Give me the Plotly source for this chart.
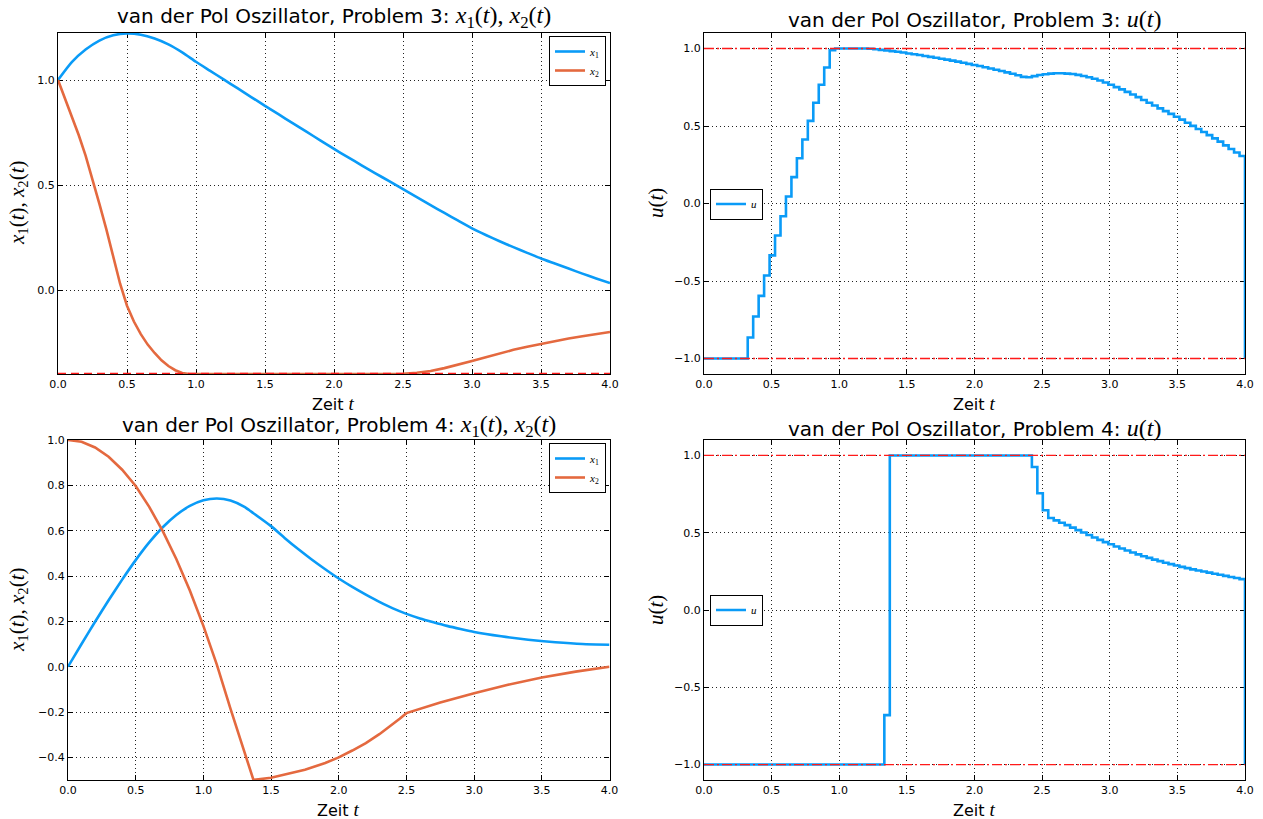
import numpy as np
import plotly.graph_objects as go

# ---------------- data ----------------
# Problem 3 states
t_p3_x1 = [0.0, 0.1, 0.2, 0.3, 0.4, 0.5, 0.6, 0.7, 0.8, 0.9, 1.0, 1.1, 1.2, 1.3, 1.4, 1.5,
           1.6, 1.7, 1.8, 1.9, 2.0, 2.1, 2.2, 2.3, 2.4, 2.5, 2.6, 2.7, 2.8, 2.9, 3.0, 3.1,
           3.2, 3.3, 3.4, 3.5, 3.6, 3.7, 3.8, 3.9, 4.0]
p3_x1 = [1.000, 1.085, 1.145, 1.188, 1.213, 1.222, 1.216, 1.198, 1.170, 1.132, 1.087, 1.045,
         1.003, 0.961, 0.919, 0.877, 0.836, 0.795, 0.754, 0.713, 0.672, 0.633, 0.594, 0.556,
         0.518, 0.480, 0.442, 0.404, 0.367, 0.330, 0.294, 0.262, 0.232, 0.204, 0.177, 0.150,
         0.126, 0.102, 0.078, 0.055, 0.033]
t_p3_x2 = [0.0, 0.05, 0.1, 0.15, 0.2, 0.25, 0.3, 0.35, 0.4, 0.45, 0.5, 0.55, 0.6, 0.65, 0.7,
           0.75, 0.8, 0.85, 0.9, 0.95, 1.5, 2.0, 2.45, 2.5, 2.6, 2.7, 2.8, 2.9, 3.0, 3.1, 3.2,
           3.3, 3.4, 3.5, 3.6, 3.7, 3.8, 3.9, 4.0]
p3_x2 = [1.0, 0.915, 0.828, 0.738, 0.64, 0.53, 0.41, 0.29, 0.16, 0.03, -0.075, -0.15, -0.21,
         -0.26, -0.30, -0.335, -0.362, -0.382, -0.395, -0.4, -0.4, -0.4, -0.4, -0.399, -0.394,
         -0.386, -0.372, -0.356, -0.338, -0.32, -0.302, -0.285, -0.27, -0.256, -0.243, -0.231,
         -0.22, -0.21, -0.2]
p3_x2_bound = -0.4

# Problem 3 control (piecewise constant on a 100-point time grid)
t_grid = np.linspace(0.0, 4.0, 100)
p3_u = [-1.0, -1.0, -1.0, -1.0, -1.0, -1.0, -1.0, -1.0,
        -0.865, -0.729, -0.596, -0.465, -0.335, -0.206, -0.082, 0.045, 0.17, 0.292,
        0.413, 0.533, 0.65, 0.766, 0.877, 0.989,
        1.0, 1.0, 1.0, 1.0, 1.0, 1.0,
        0.998, 0.995, 0.991, 0.987, 0.983, 0.979, 0.974, 0.968, 0.963, 0.958,
        0.952, 0.946, 0.940, 0.934, 0.928, 0.922, 0.915, 0.908, 0.901, 0.894,
        0.887, 0.879, 0.871, 0.863, 0.855, 0.846, 0.837, 0.827, 0.817, 0.815,
        0.822, 0.829, 0.834, 0.838, 0.840, 0.840, 0.838, 0.835, 0.830, 0.823,
        0.815, 0.805, 0.794, 0.781, 0.766, 0.751, 0.736, 0.720, 0.703, 0.686,
        0.668, 0.650, 0.632, 0.614, 0.596, 0.578, 0.560, 0.541, 0.521, 0.501,
        0.481, 0.461, 0.441, 0.420, 0.399, 0.375, 0.352, 0.329, 0.306,
        -1.0]

# Problem 4 states
t_p4_x1 = [0.0, 0.1, 0.2, 0.3, 0.4, 0.5, 0.6, 0.7, 0.8, 0.9, 1.0, 1.1, 1.2, 1.3, 1.37, 1.5,
           1.6, 1.7, 1.8, 1.9, 2.0, 2.1, 2.2, 2.3, 2.4, 2.5, 2.6, 2.7, 2.8, 2.9, 3.0, 3.2,
           3.4, 3.6, 3.8, 4.0]
p4_x1 = [0.0, 0.1, 0.198, 0.293, 0.384, 0.47, 0.548, 0.615, 0.669, 0.709, 0.734, 0.742,
         0.733, 0.706, 0.677, 0.62, 0.568, 0.519, 0.473, 0.43, 0.389, 0.352, 0.318, 0.286,
         0.257, 0.233, 0.213, 0.196, 0.18, 0.166, 0.153, 0.134, 0.119, 0.108, 0.1, 0.097]
t_p4_x2 = [0.0, 0.1, 0.2, 0.3, 0.4, 0.5, 0.6, 0.7, 0.8, 0.9, 1.0, 1.1, 1.2, 1.3, 1.37, 1.5,
           1.6, 1.75, 1.9, 2.0, 2.1, 2.2, 2.3, 2.4, 2.45, 2.5, 2.75, 3.0, 3.25, 3.5, 3.75, 4.0]
p4_x2 = [1.0, 0.992, 0.967, 0.926, 0.869, 0.797, 0.705, 0.598, 0.475, 0.336, 0.18, 0.008,
         -0.185, -0.37, -0.5, -0.49, -0.476, -0.455, -0.425, -0.40, -0.37, -0.337, -0.298,
         -0.255, -0.23, -0.205, -0.158, -0.117, -0.08, -0.048, -0.022, 0.0]

# Problem 4 control
p4_u = [-1.0] * 33 + [-0.68] + [1.0] * 26 + [
        0.925, 0.755, 0.645, 0.595,
        0.580, 0.565, 0.549, 0.533, 0.517, 0.501, 0.485, 0.469, 0.454, 0.439,
        0.425, 0.411, 0.398, 0.385, 0.372, 0.360, 0.348, 0.337, 0.326, 0.316,
        0.306, 0.297, 0.288, 0.279, 0.271, 0.263, 0.256, 0.249, 0.242, 0.235,
        0.228, 0.221, 0.214, 0.207, 0.200,
        -1.0]

u_bounds = [-1.0, 1.0]
t_span = [0.0, 4.0]

# ---------------- style ----------------
BLUE = "#0A9BF7"
ORANGE = "#E4693F"
RED = "#FF1A1A"
SANS = "DejaVu Sans"
SERIF = "Liberation Serif"
W, H = 1263, 819


def math(s, size=None):
    st = "font-family:%s" % SERIF
    if size:
        st += ";font-size:%dpx" % size
    return '<span style="%s">%s</span>' % (st, s)


def x12(size=None):
    return math("<i>x</i><sub>1</sub>(<i>t</i>), <i>x</i><sub>2</sub>(<i>t</i>)", size)


def ut(size=None):
    return math("<i>u</i>(<i>t</i>)", size)


fig = go.Figure()

# Problem 3 states
fig.add_trace(go.Scatter(x=t_p3_x1, y=p3_x1, mode="lines", name=math("<i>x</i><sub>1</sub>"),
                         line=dict(color=BLUE, width=2.6, shape="spline", smoothing=0.6),
                         xaxis="x", yaxis="y", legend="legend"))
fig.add_trace(go.Scatter(x=t_p3_x2, y=p3_x2, mode="lines", name=math("<i>x</i><sub>2</sub>"),
                         line=dict(color=ORANGE, width=2.6), xaxis="x", yaxis="y", legend="legend"))
fig.add_trace(go.Scatter(x=t_span, y=[p3_x2_bound, p3_x2_bound], mode="lines", showlegend=False,
                         line=dict(color=RED, width=2.6, dash="8px,5px"), xaxis="x", yaxis="y"))

# Problem 3 control
fig.add_trace(go.Scatter(x=t_grid, y=p3_u, mode="lines", name=math("<i>u</i>"), line_shape="hv",
                         line=dict(color=BLUE, width=2.6), xaxis="x2", yaxis="y2", legend="legend2"))
for b in u_bounds:
    fig.add_trace(go.Scatter(x=t_span, y=[b, b], mode="lines", showlegend=False,
                             line=dict(color=RED, width=1.3, dash="10px,3px,2px,3px"),
                             xaxis="x2", yaxis="y2"))

# Problem 4 states
fig.add_trace(go.Scatter(x=t_p4_x1, y=p4_x1, mode="lines", name=math("<i>x</i><sub>1</sub>"),
                         line=dict(color=BLUE, width=2.6, shape="spline", smoothing=0.6),
                         xaxis="x3", yaxis="y3", legend="legend3"))
fig.add_trace(go.Scatter(x=t_p4_x2, y=p4_x2, mode="lines", name=math("<i>x</i><sub>2</sub>"),
                         line=dict(color=ORANGE, width=2.6), xaxis="x3", yaxis="y3", legend="legend3"))

# Problem 4 control
fig.add_trace(go.Scatter(x=t_grid, y=p4_u, mode="lines", name=math("<i>u</i>"), line_shape="hv",
                         line=dict(color=BLUE, width=2.6), xaxis="x4", yaxis="y4", legend="legend4"))
for b in u_bounds:
    fig.add_trace(go.Scatter(x=t_span, y=[b, b], mode="lines", showlegend=False,
                             line=dict(color=RED, width=1.3, dash="10px,3px,2px,3px"),
                             xaxis="x4", yaxis="y4"))


# ---------------- axes ----------------
def px_x(p):
    return p / W


def px_y(p):
    return 1 - p / H


common = dict(showline=True, linecolor="black", linewidth=1.3, mirror="allticks",
              ticks="inside", ticklen=5, tickwidth=1, tickcolor="black",
              showgrid=True, gridcolor="#222222", gridwidth=1, griddash="1px,3px",
              zeroline=False, tickfont=dict(family=SANS, size=11, color="black"),
              tickformat=".1f", fixedrange=True, automargin=False, layer="below traces")

dom_l = [px_x(58), px_x(610)]
dom_r = [px_x(704), px_x(1245)]
dom_t = [px_y(374), px_y(33)]
dom_b = [px_y(780), px_y(440)]
dom_bl = [px_x(68), px_x(609.5)]

fig.update_layout(
    xaxis=dict(common, domain=dom_l, range=[0, 4], dtick=0.5, tick0=0, anchor="y"),
    yaxis=dict(common, domain=dom_t, range=[-0.4, 1.224], dtick=0.5, tick0=0, anchor="x"),
    xaxis2=dict(common, domain=dom_r, range=[0, 4], dtick=0.5, tick0=0, anchor="y2"),
    yaxis2=dict(common, domain=dom_t, range=[-1.1, 1.1], dtick=0.5, tick0=0, anchor="x2"),
    xaxis3=dict(common, domain=dom_bl, range=[0, 4], dtick=0.5, tick0=0, anchor="y3"),
    yaxis3=dict(common, domain=dom_b, range=[-0.5, 1.0], dtick=0.2, tick0=0, anchor="x3"),
    xaxis4=dict(common, domain=dom_r, range=[0, 4], dtick=0.5, tick0=0, anchor="y4"),
    yaxis4=dict(common, domain=dom_b, range=[-1.1, 1.1], dtick=0.5, tick0=0, anchor="x4"),
)

leg_common = dict(bordercolor="black", borderwidth=1, bgcolor="white",
                  font=dict(family=SERIF, size=11, color="black"), itemwidth=30,
                  tracegroupgap=0)
fig.update_layout(
    legend=dict(leg_common, x=px_x(606), y=px_y(36), xanchor="right", yanchor="top"),
    legend2=dict(leg_common, x=px_x(710), y=px_y(204), xanchor="left", yanchor="middle"),
    legend3=dict(leg_common, x=px_x(606), y=px_y(443), xanchor="right", yanchor="top"),
    legend4=dict(leg_common, x=px_x(710), y=px_y(610), xanchor="left", yanchor="middle"),
)

# ---------------- titles & labels ----------------
titles = [
    ("van der Pol Oszillator, Problem 3: " + x12(24), dom_l, 33, -1),
    ("van der Pol Oszillator, Problem 3: " + ut(24), dom_r, 33, -1),
    ("van der Pol Oszillator, Problem 4: " + x12(24), dom_bl, 440, -3),
    ("van der Pol Oszillator, Problem 4: " + ut(24), dom_r, 440, -3),
]
ann = []
for txt, dom, top, ys in titles:
    ann.append(dict(text=txt, x=(dom[0] + dom[1]) / 2, y=px_y(top), xref="paper", yref="paper",
                    xanchor="center", yanchor="bottom", yshift=ys, showarrow=False,
                    font=dict(family=SANS, size=20, color="black")))

zeit = "Zeit " + math("<i>t</i>", 19)
for dom, yp in [(dom_l, 403), (dom_r, 403), (dom_bl, 809), (dom_r, 809)]:
    ann.append(dict(text=zeit, x=(dom[0] + dom[1]) / 2, y=px_y(yp), xref="paper", yref="paper",
                    xanchor="center", yanchor="middle", showarrow=False,
                    font=dict(family=SANS, size=16, color="black")))

for txt, xp, yp in [(x12(), 18, 203), (ut(), 656, 203), (x12(), 18, 610), (ut(), 656, 610)]:
    ann.append(dict(text=txt, x=px_x(xp), y=px_y(yp), xref="paper", yref="paper",
                    xanchor="center", yanchor="middle", textangle=-90, showarrow=False,
                    font=dict(family=SERIF, size=21, color="black")))

fig.update_layout(annotations=ann, width=W, height=H, autosize=False,
                  margin=dict(l=0, r=0, t=0, b=0), paper_bgcolor="white", plot_bgcolor="white",
                  font=dict(family=SANS, color="black"))

fig.write_html("out.html", config={"displayModeBar": False},
               post_script="document.body.style.margin='0px';document.body.style.overflow='hidden';")
